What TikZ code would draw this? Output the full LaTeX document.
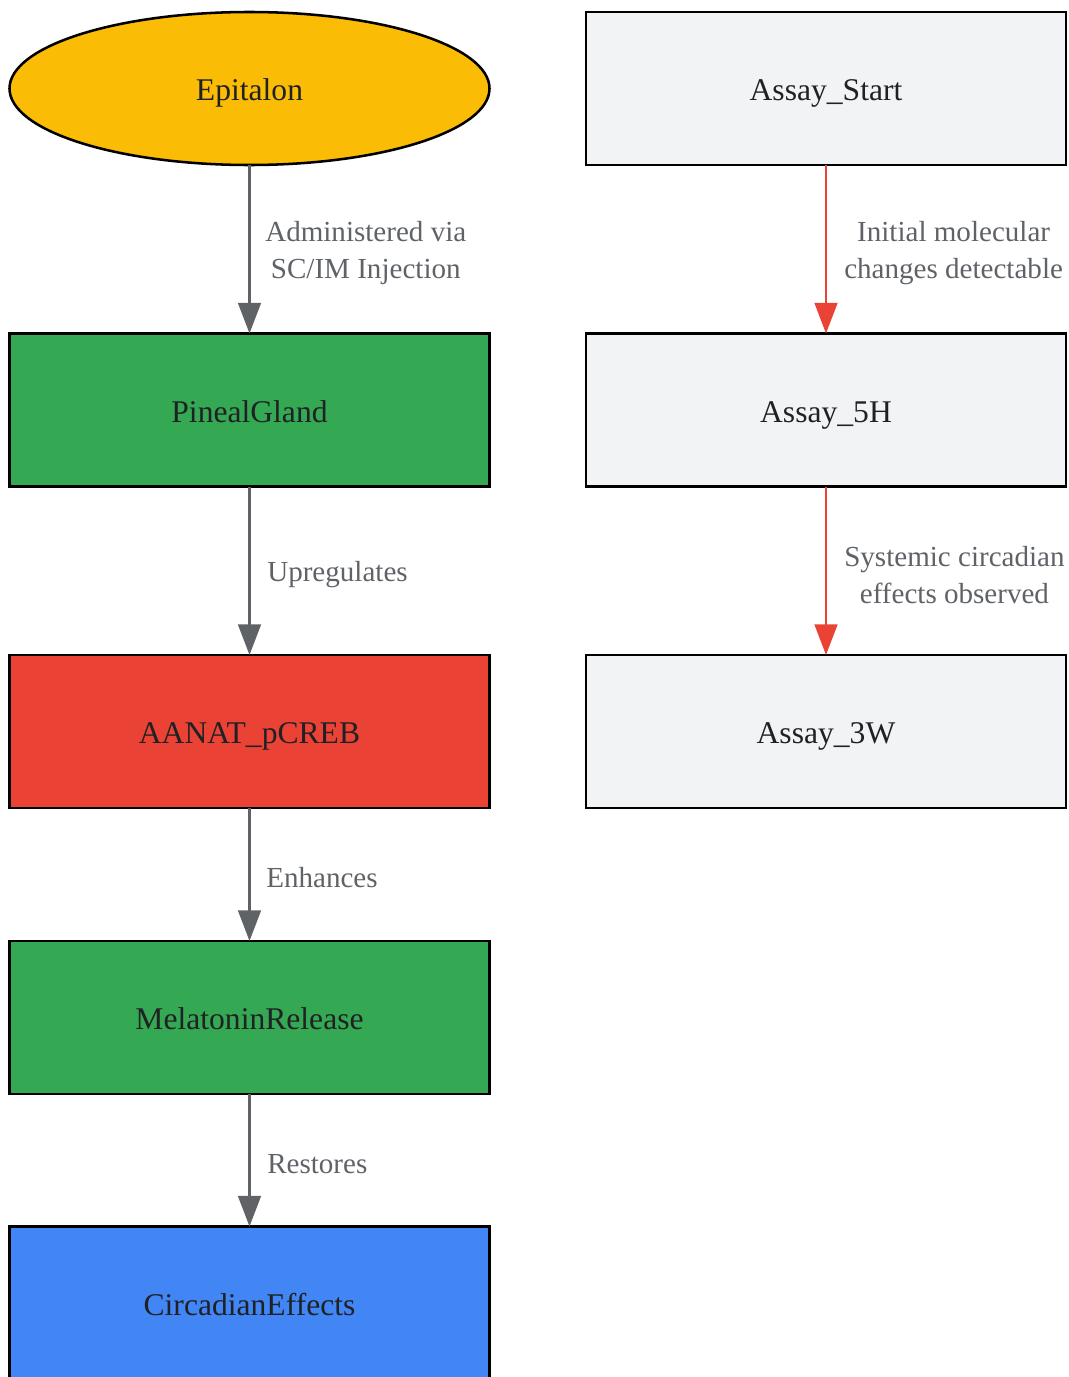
\documentclass[tikz,border=0pt]{standalone}
\usepackage{fontspec}
\setmainfont{Liberation Serif}
\usetikzlibrary{shapes.geometric,arrows.meta}
\definecolor{cyellow}{HTML}{FBBC05}
\definecolor{cgreen}{HTML}{34A853}
\definecolor{cred}{HTML}{EA4335}
\definecolor{cblue}{HTML}{4285F4}
\definecolor{cgrey}{HTML}{F1F3F4}
\definecolor{edgegrey}{HTML}{5F6368}
\definecolor{labgrey}{HTML}{5F6368}
\definecolor{txt}{HTML}{202124}
\tikzset{
  box/.style={draw=black, line width=1.9pt, minimum width=360pt, minimum height=114.75pt, inner sep=0pt, outer sep=0pt, text=txt, text height=18pt, text depth=0pt, font=\fontsize{23.7}{28}\selectfont},
  oval/.style={box, ellipse},
  conn/.style={draw=edgegrey, line width=2.1pt, -{Triangle[length=23pt,width=17pt]}},
  redconn/.style={conn, draw=cred},
  elabel/.style={anchor=west, align=center, text=labgrey, font=\fontsize{21.8}{27.7}\selectfont, inner sep=0pt}
}
\begin{document}
\begin{tikzpicture}[x=0.75pt,y=-0.75pt]
\useasboundingbox (0,0) rectangle (1068,1377);
\node[oval, fill=cyellow] (epi) at (249.5,88.5) {Epitalon};
\node[box, fill=cgreen] (pin) at (249.5,410) {PinealGland};
\node[box, fill=cred] (aan) at (249.5,731.5) {AANAT\_pCREB};
\node[box, fill=cgreen] (mel) at (249.5,1017.5) {MelatoninRelease};
\node[box, fill=cblue] (cir) at (249.5,1303) {CircadianEffects};
\node[box, fill=cgrey] (as) at (826,88.5) {Assay\_Start};
\node[box, fill=cgrey] (a5) at (826,410) {Assay\_5H};
\node[box, fill=cgrey] (a3) at (826,731.5) {Assay\_3W};

\draw[conn] (epi.south) -- (pin.north);
\draw[conn] (pin.south) -- (aan.north);
\draw[conn] (aan.south) -- (mel.north);
\draw[conn] (mel.south) -- (cir.north);
\draw[redconn] (as.south) -- (a5.north);
\draw[redconn] (a5.south) -- (a3.north);

\node[elabel] (l1) at (265,253) {Administered via\\SC/IM Injection};
\node[elabel] (l2) at (267,575) {Upregulates};
\node[elabel] (l3) at (266,878) {Enhances};
\node[elabel] (l4) at (267,1164) {Restores};
\node[elabel] (l5) at (844,253) {Initial molecular\\changes detectable};
\node[elabel] (l6) at (844,575) {Systemic circadian\\effects observed};
\end{tikzpicture}
\end{document}
